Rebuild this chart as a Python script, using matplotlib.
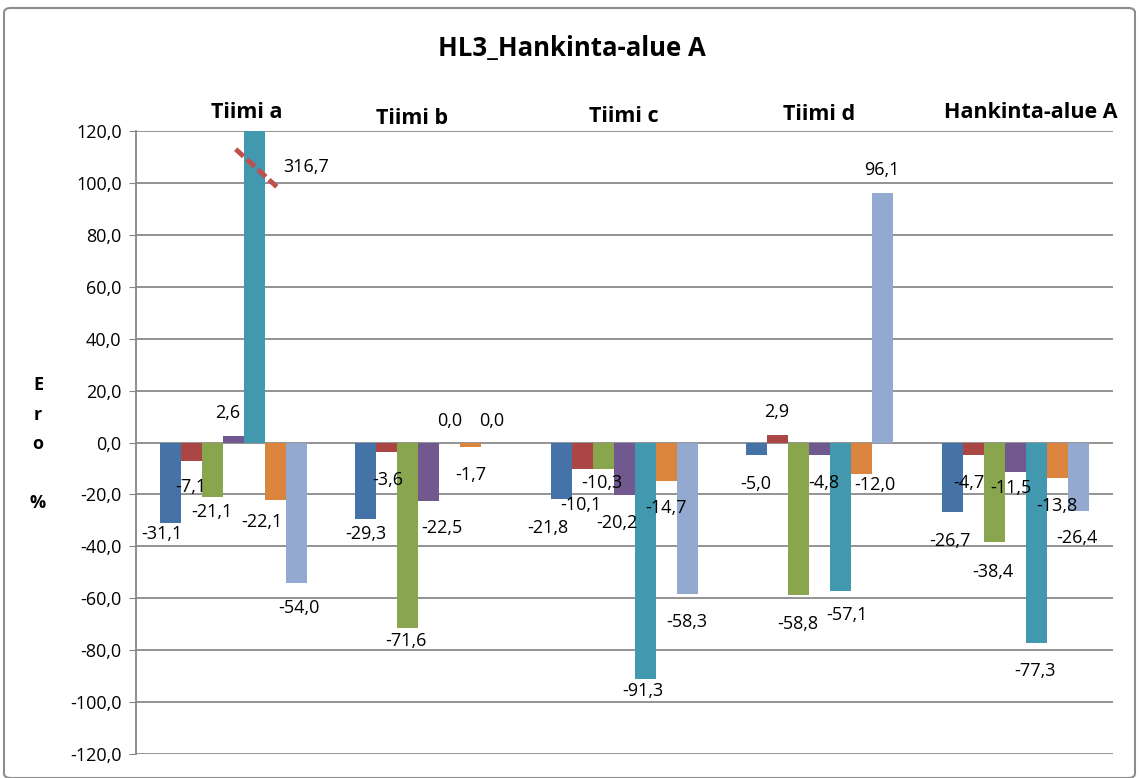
import matplotlib
matplotlib.use("Agg")
import matplotlib.pyplot as plt
import numpy as np
from matplotlib.patches import FancyBboxPatch
from matplotlib.transforms import blended_transform_factory

# chart data (values in %, Finnish decimal comma in labels)
groups = ["Tiimi a", "Tiimi b", "Tiimi c", "Tiimi d", "Hankinta-alue A"]
s1 = [-31.1, -29.3, -21.8, -5.0, -26.7]
s2 = [-7.1, -3.6, -10.1, 2.9, -4.7]
s3 = [-21.1, -71.6, -10.3, -58.8, -38.4]
s4 = [2.6, -22.5, -20.2, -4.8, -11.5]
s5 = [316.7, 0.0, -91.3, -57.1, -77.3]
s6 = [-22.1, -1.7, -14.7, -12.0, -13.8]
s7 = [-54.0, 0.0, -58.3, 96.1, -26.4]
series = [s1, s2, s3, s4, s5, s6, s7]
yticks = list(range(-120, 121, 20))

colors = ["#4572A7", "#AA4643", "#89A54E", "#71588F", "#4198AF", "#DB843D", "#93A9CF"]

# label offsets in pixels (dx, down), one row per group, one column per series
label_dx = [[-8, 0, 0, -6, 52, -13, 3],
            [0, 1, -2, 13, 0, 0, 0],
            [-13, -1, -1, -7, -2, 0, 0],
            [-1, -1, -1, 4, 6, 13, -1],
            [-2, -4, -1, -4, -1, 0, -1]]
label_down = [[11, 26, 15, -23, 36, 22, 25],
              [15, 28, 13, 27, -22, 28, -22],
              [29, 36, 14, 28, 12, 27, 28],
              [29, -23, 29, 28, 24, 11, -23],
              [29, 28, 30, 16, 28, 28, 27]]
group_dx = [0.07, -0.086, 0.0, -0.001, 0.08]
group_label_y = [113, 118, 116, 114, 112]

W, H = 1139, 778
fig = plt.figure(figsize=(W / 100, H / 100), dpi=100)
fig.patches.append(FancyBboxPatch((4 / W, 0.0), 1131 / W, 1 - 8 / H,
                                  boxstyle="round,pad=0,rounding_size=0.006",
                                  transform=fig.transFigure, fill=False,
                                  edgecolor="#8c8c8c", linewidth=1.5))

ax = fig.add_axes([135.5 / W, 1 - 754 / H, 977.5 / W, 623 / H])
font = "Open Sans"

width = 0.1075
x = np.arange(len(groups))
ymax = 120
for i, vals in enumerate(series):
    xs = x + (i - 3) * width
    ax.bar(xs, np.clip(vals, -ymax, ymax), width, color=colors[i], zorder=3)
    for g, v in enumerate(vals):
        ax.annotate(f"{v:.1f}".replace(".", ","), (xs[g], min(v, ymax)),
                    xytext=(label_dx[g][i], -label_down[g][i]),
                    textcoords="offset pixels", ha="center", va="center",
                    fontsize=13, family=font, zorder=5)

# break mark on the clipped bar
xb = x[0] + width
ax.plot([xb - 0.095, xb + 0.115], [113, 98.5], color="#C0504D", lw=3.5,
        ls=(0, (2.2, 0.9)), zorder=6, clip_on=False)

ax.set_xlim(-0.5, len(groups) - 0.5)
ax.set_ylim(-120, 120)
ax.set_yticks(yticks)
ax.set_yticklabels([f"{t:.1f}".replace(".", ",") for t in yticks],
                   fontsize=13, family=font)
ax.set_xticks([])
ax.tick_params(axis="y", length=5, color="#868686", pad=5)
ax.grid(axis="y", color="#8a8a8a", linewidth=1.3, zorder=0)
for side in ["top", "right", "bottom"]:
    ax.spines[side].set_visible(False)
ax.spines["left"].set_color("#868686")
ax.spines["left"].set_linewidth(1.3)

trans = blended_transform_factory(ax.transData, fig.transFigure)
for g, name in enumerate(groups):
    ax.text(x[g] + group_dx[g], 1 - group_label_y[g] / H, name, transform=trans,
            ha="center", va="center", fontsize=15.5, fontweight="bold", family=font)

fig.text(572 / W, 1 - 48 / H, "HL3_Hankinta-alue A", ha="center", va="center",
         fontsize=18.5, fontweight="bold", family=font)
fig.text(38 / W, 1 - 444 / H, "E\nr\no\n\n%", ha="center", va="center",
         fontsize=13, fontweight="bold", family=font, linespacing=1.82)

fig.savefig("out.png", dpi=100)
